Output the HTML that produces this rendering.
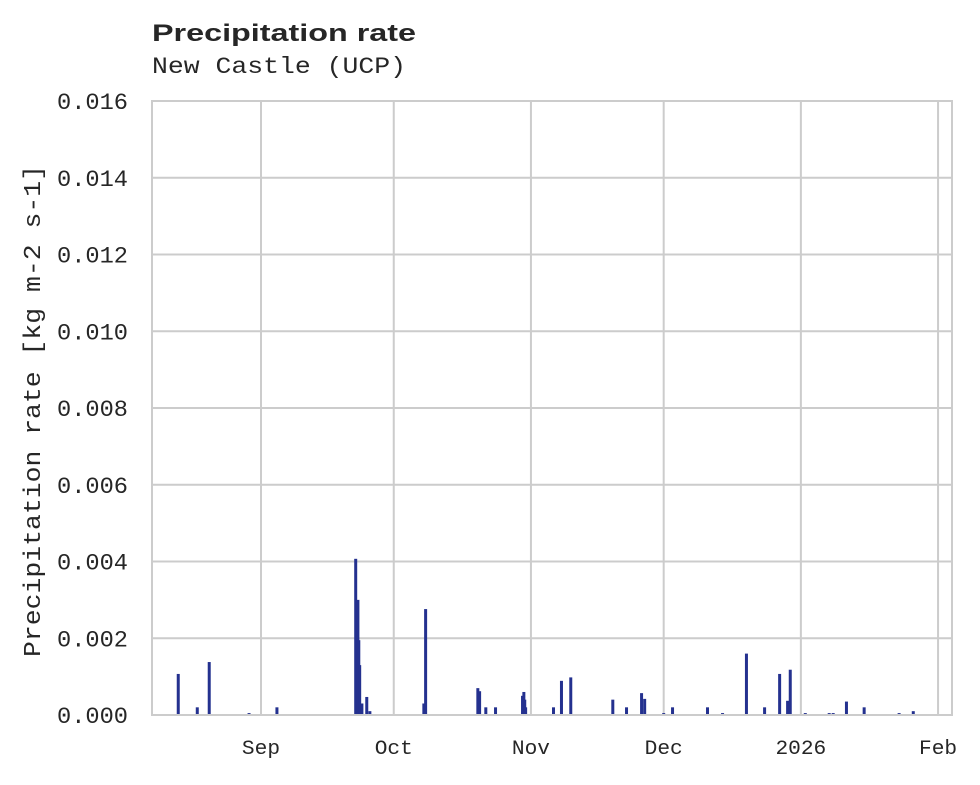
<!DOCTYPE html>
<html><head><meta charset="utf-8"><style>
body{margin:0;background:#fff;}
svg text{fill:#262626;}
</style></head><body>
<svg width="980" height="780" viewBox="0 0 980 780" xmlns="http://www.w3.org/2000/svg">
<text x="152" y="41" font-family="Liberation Sans, sans-serif" font-weight="bold" font-size="24" textLength="264" lengthAdjust="spacingAndGlyphs">Precipitation rate</text>
<text x="152" y="73" font-family="Liberation Mono, monospace" font-size="23" textLength="254" lengthAdjust="spacingAndGlyphs">New Castle (UCP)</text>
<g id="grid"></g>
<g id="bars"></g>
<rect x="152" y="101" width="800" height="614" fill="none" stroke="#cccccc" stroke-width="2"/>
<g id="yticks"></g>
<g id="xticks"></g>
<text transform="translate(40,411) rotate(-90)" text-anchor="middle" font-family="Liberation Mono, monospace" font-size="24" textLength="492" lengthAdjust="spacingAndGlyphs">Precipitation rate [kg m-2 s-1]</text>
</svg>
<script>
const days=[12.3,16.6,19.3,28.3,34.6,52.4,52.9,53.1,53.3,53.8,54.9,55.6,67.8,68.2,80.0,80.4,81.8,84.0,90.1,90.4,90.6,90.8,97.1,98.9,101.0,110.5,113.6,117.0,117.7,122.0,124.0,131.9,135.3,140.7,144.8,148.2,150.0,150.6,154.0,159.4,160.3,163.3,167.3,175.2,178.4];
const values=[0.00107,0.0002,0.00138,0.00005,0.0002,0.00407,0.003,0.00195,0.0013,0.0003,0.00047,0.0001,0.0003,0.00276,0.0007,0.00062,0.0002,0.0002,0.0005,0.0006,0.0004,0.0002,0.0002,0.00089,0.00098,0.0004,0.0002,0.00057,0.00042,0.00005,0.0002,0.0002,0.00005,0.0016,0.0002,0.00107,0.00037,0.00118,0.00005,0.00005,0.00005,0.00035,0.0002,0.00005,0.0001];
const yTicks=[0,0.002,0.004,0.006,0.008,0.010,0.012,0.014,0.016];
const xTickLabels=["Sep","Oct","Nov","Dec","2026","Feb"];
const xTickDays=[31,61,92,122,153,184];
const NS="http://www.w3.org/2000/svg";
function xs(d){return 261+(d-31)*4.4252;}
function ys(v){return 715-v/0.016*614;}
function mk(t,a,p){const e=document.createElementNS(NS,t);for(const k in a)e.setAttribute(k,a[k]);p.appendChild(e);return e;}
const grid=document.getElementById('grid'),bars=document.getElementById('bars'),yt=document.getElementById('yticks'),xt=document.getElementById('xticks');
yTicks.forEach((v,i)=>{
  const l=mk('line',{x1:152,x2:952,y1:ys(v),y2:ys(v),stroke:'#cccccc','stroke-width':2},grid);
  
  
  const t=mk('text',{x:57,y:ys(v)+8,'font-family':'Liberation Mono, monospace','font-size':23,textLength:71,lengthAdjust:'spacingAndGlyphs'},yt);
  t.textContent=v.toFixed(3);
  
  
});
xTickDays.forEach((d,i)=>{
  const x=xs(d);
  const l=mk('line',{x1:x,x2:x,y1:101,y2:715,stroke:'#cccccc','stroke-width':2},grid);
  
  
  const w=xTickLabels[i].length*12.7;
  const t=mk('text',{x:x-w/2,y:754,'font-family':'Liberation Mono, monospace','font-size':20,textLength:w,lengthAdjust:'spacingAndGlyphs'},xt);
  t.textContent=xTickLabels[i];
  
  
});
days.forEach((d,i)=>{
  const y=ys(values[i]);
  const r=mk('rect',{x:xs(d)-1.5,y:y,width:3,height:715-y,fill:'#24318f'},bars);
  
  
});
</script>
</body></html>
